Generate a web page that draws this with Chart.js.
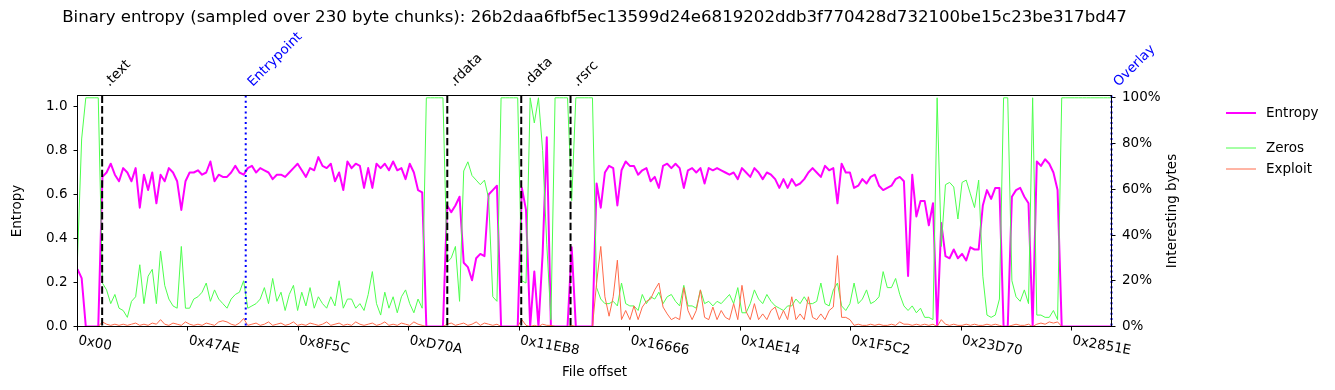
<!DOCTYPE html>
<html>
<head>
<meta charset="utf-8">
<title>Binary entropy</title>
<script src="https://cdn.jsdelivr.net/npm/chart.js@4.4.1/dist/chart.umd.min.js"></script>
<style>
  body { margin: 0; background: #fff; }
  #chart { display: block; }
</style>
</head>
<body>
<canvas id="chart" width="1335" height="390"></canvas>
<script>
const chartTitle = "Binary entropy (sampled over 230 byte chunks): 26b2daa6fbf5ec13599d24e6819202ddb3f770428d732100be15c23be317bd47";

// bytes between two plotted samples, and the end of the plotted range
const sampleStep = 690;
const fileEnd = 171800;

const tickOffsets = [0, 18350, 36700, 55050, 73400, 91750, 110100, 128450, 146800, 165150];
const tickLabels = ["0x00", "0x47AE", "0x8F5C", "0xD70A", "0x11EB8", "0x16666", "0x1AE14", "0x1F5C2", "0x23D70", "0x2851E"];
const entropyTicks = [0, 0.2, 0.4, 0.6, 0.8, 1.0];
const percentTicks = [0, 0.2, 0.4, 0.6, 0.8, 1.0];

const sectionNames = [".text", ".rdata", ".data", ".rsrc"];
const sectionOffsets = [4096, 61440, 73728, 81920];
const markerNames = ["Entrypoint", "Overlay"];
const markerOffsets = [27950, 171800];

const entropy = [
  0.26, 0.22, 0, 0, 0, 0, 0.68, 0.70, 0.74, 0.69,
  0.66, 0.72, 0.70, 0.66, 0.72, 0.54, 0.69, 0.62, 0.70, 0.56,
  0.69, 0.66, 0.72, 0.70, 0.66, 0.53, 0.66, 0.70, 0.70, 0.71,
  0.69, 0.70, 0.75, 0.66, 0.69, 0.68, 0.68, 0.70, 0.73, 0.70,
  0.69, 0.72, 0.73, 0.70, 0.72, 0.71, 0.70, 0.67, 0.69, 0.69,
  0.68, 0.70, 0.72, 0.74, 0.71, 0.68, 0.72, 0.71, 0.77, 0.73,
  0.72, 0.74, 0.66, 0.70, 0.62, 0.75, 0.72, 0.74, 0.73, 0.63,
  0.72, 0.63, 0.74, 0.72, 0.74, 0.71, 0.75, 0.71, 0.72, 0.67,
  0.74, 0.70, 0.62, 0.61, 0, 0, 0, 0, 0, 0.55,
  0.52, 0.55, 0.59, 0.29, 0.27, 0.21, 0.31, 0.33, 0.32, 0.60,
  0.62, 0.64, 0, 0, 0, 0, 0, 0.63, 0.53, 0,
  0.25, 0, 0.33, 0.86, 0, 0, 0, 0, 0, 0.36,
  0, 0, 0, 0, 0, 0.65, 0.54, 0.70, 0.73, 0.72,
  0.55, 0.71, 0.75, 0.73, 0.73, 0.69, 0.71, 0.72, 0.66, 0.68,
  0.63, 0.73, 0.74, 0.72, 0.74, 0.72, 0.63, 0.71, 0.72, 0.70,
  0.72, 0.65, 0.72, 0.71, 0.72, 0.71, 0.70, 0.69, 0.70, 0.67,
  0.72, 0.70, 0.68, 0.72, 0.70, 0.67, 0.70, 0.69, 0.67, 0.63,
  0.67, 0.63, 0.67, 0.64, 0.65, 0.67, 0.70, 0.72, 0.70, 0.68,
  0.73, 0.71, 0.72, 0.56, 0.74, 0.70, 0.70, 0.63, 0.64, 0.67,
  0.65, 0.68, 0.69, 0.64, 0.62, 0.63, 0.64, 0.67, 0.68, 0.66,
  0.23, 0.69, 0.50, 0.57, 0.57, 0.46, 0.56, 0, 0.47, 0.32,
  0.31, 0.35, 0.31, 0.33, 0.30, 0.36, 0.35, 0.35, 0.55, 0.62,
  0.58, 0.63, 0.63, 0, 0, 0.59, 0.62, 0.63, 0.59, 0.56,
  0, 0.75, 0.73, 0.76, 0.74, 0.70, 0.62, 0, 0, 0,
  0, 0, 0, 0, 0, 0, 0, 0, 0, 0
];

const zeros = [
  0.30, 0.82, 1, 1, 1, 1, 0.19, 0.16, 0.10, 0.14,
  0.08, 0.07, 0.04, 0.11, 0.13, 0.27, 0.10, 0.22, 0.25, 0.10,
  0.33, 0.18, 0.12, 0.09, 0.08, 0.35, 0.08, 0.08, 0.12, 0.13,
  0.15, 0.19, 0.11, 0.16, 0.12, 0.10, 0.08, 0.12, 0.14, 0.15,
  0.20, 0.08, 0.09, 0.10, 0.12, 0.17, 0.10, 0.21, 0.11, 0.15,
  0.07, 0.14, 0.18, 0.07, 0.15, 0.09, 0.17, 0.08, 0.13, 0.10,
  0.08, 0.13, 0.09, 0.20, 0.08, 0.12, 0.12, 0.08, 0.10, 0.07,
  0.14, 0.24, 0.10, 0.05, 0.15, 0.08, 0.13, 0.06, 0.13, 0.16,
  0.10, 0.06, 0.12, 0.08, 1, 1, 1, 1, 1, 0.28,
  0.30, 0.35, 0.11, 0.68, 0.72, 0.66, 0.64, 0.62, 0.64, 0.56,
  0.13, 0.11, 1, 1, 1, 1, 1, 0.20, 0.19, 1,
  0.89, 1, 0.77, 0.36, 0.03, 1, 1, 1, 1, 0.55,
  1, 1, 1, 1, 1, 0.17, 0.12, 0.10, 0.10, 0.11,
  0.09, 0.19, 0.10, 0.09, 0.09, 0.07, 0.14, 0.10, 0.13, 0.12,
  0.15, 0.10, 0.13, 0.14, 0.11, 0.09, 0.18, 0.09, 0.09, 0.08,
  0.16, 0.10, 0.11, 0.09, 0.11, 0.10, 0.12, 0.14, 0.10, 0.17,
  0.06, 0.06, 0.10, 0.16, 0.12, 0.10, 0.14, 0.11, 0.09, 0.08,
  0.07, 0.09, 0.09, 0.12, 0.10, 0.13, 0.10, 0.10, 0.11, 0.19,
  0.10, 0.09, 0.16, 0.19, 0.09, 0.07, 0.10, 0.19, 0.10, 0.12,
  0.16, 0.10, 0.11, 0.13, 0.24, 0.17, 0.17, 0.21, 0.14, 0.09,
  0.07, 0.09, 0.06, 0.08, 0.04, 0.04, 0.03, 1, 0.35, 0.62,
  0.63, 0.61, 0.47, 0.63, 0.64, 0.58, 0.52, 0.64, 0.22, 0.05,
  0.04, 0.05, 0.12, 1, 1, 0.20, 0.13, 0.11, 0.16, 0.10,
  1, 0.05, 0.05, 0.04, 0.04, 0.07, 0.03, 1, 1, 1,
  1, 1, 1, 1, 1, 1, 1, 1, 1, 1
];

const exploit = [
  0, 0, 0, 0, 0, 0, 0.02, 0.01, 0.005, 0.01,
  0.005, 0.01, 0.005, 0.01, 0.015, 0.005, 0.01, 0.005, 0.015, 0.01,
  0.03, 0.01, 0.005, 0.015, 0.01, 0.005, 0.02, 0.01, 0.005, 0.01,
  0.005, 0.015, 0.01, 0.005, 0.02, 0.025, 0.02, 0.01, 0.005, 0.015,
  0.035, 0.005, 0.01, 0.015, 0.005, 0.01, 0.02, 0.005, 0.01, 0.015,
  0.005, 0.01, 0.02, 0.005, 0.01, 0.005, 0.015, 0.01, 0.005, 0.01,
  0.02, 0.005, 0.01, 0.015, 0.005, 0.01, 0.005, 0.02, 0.01, 0.005,
  0.01, 0.015, 0.005, 0.01, 0.02, 0.005, 0.01, 0.005, 0.015, 0.01,
  0.005, 0.02, 0.01, 0.005, 0, 0, 0, 0, 0, 0.01,
  0.015, 0.005, 0.01, 0.015, 0.005, 0.01, 0.02, 0.005, 0.015, 0.01,
  0.005, 0.01, 0, 0, 0, 0, 0, 0.03, 0.005, 0,
  0.005, 0, 0.01, 0.005, 0.005, 0, 0, 0, 0, 0.005,
  0, 0, 0, 0, 0, 0.19, 0.35, 0.13, 0.045, 0.13,
  0.29, 0.03, 0.07, 0.03, 0.09, 0.03, 0.085, 0.11, 0.12, 0.16,
  0.19, 0.085, 0.055, 0.03, 0.04, 0.03, 0.17, 0.07, 0.03, 0.07,
  0.16, 0.04, 0.03, 0.085, 0.03, 0.07, 0.04, 0.03, 0.10, 0.03,
  0.18, 0.065, 0.03, 0.10, 0.03, 0.055, 0.03, 0.07, 0.085, 0.03,
  0.07, 0.03, 0.13, 0.03, 0.055, 0.03, 0.13, 0.04, 0.03, 0.055,
  0.03, 0.07, 0.085, 0.31, 0.04, 0.04, 0.03, 0.005, 0.01, 0.005,
  0.005, 0.01, 0.005, 0.01, 0.005, 0.005, 0.01, 0.005, 0.02, 0.01,
  0.01, 0.005, 0.01, 0.005, 0.01, 0.005, 0.01, 0, 0.03, 0.01,
  0.005, 0.01, 0.005, 0.005, 0.01, 0.005, 0.01, 0.005, 0.005, 0.01,
  0.005, 0.01, 0.005, 0, 0, 0.005, 0.01, 0.005, 0.005, 0.01,
  0, 0.01, 0.015, 0.01, 0.02, 0.015, 0.02, 0, 0, 0,
  0, 0, 0, 0, 0, 0, 0, 0, 0, 0
];

const FONT = "DejaVu Sans";
Chart.defaults.font.family = FONT;
Chart.defaults.font.size = 13.5;
Chart.defaults.color = "#000";

function toPoints(values) {
  return values.map((v, i) => ({ x: i * sampleStep, y: v }));
}

const tickGrid = { drawOnChartArea: false, tickLength: 4, color: "#000" };

// section lines, frame, texts and the legend
const decorations = {
  id: "decorations",
  afterDatasetsDraw(chart) {
    const { ctx, chartArea: a } = chart;
    const xs = chart.scales.x;
    ctx.save();
    ctx.lineWidth = 2;
    ctx.strokeStyle = "#000";
    ctx.setLineDash([7.4, 3.2]);
    sectionOffsets.forEach((off) => {
      const px = xs.getPixelForValue(off);
      ctx.beginPath();
      ctx.moveTo(px, a.top);
      ctx.lineTo(px, a.bottom);
      ctx.stroke();
    });
    ctx.strokeStyle = "#0000ff";
    ctx.setLineDash([2, 3.3]);
    markerOffsets.forEach((off) => {
      const px = xs.getPixelForValue(off);
      ctx.beginPath();
      ctx.moveTo(px, a.top);
      ctx.lineTo(px, a.bottom);
      ctx.stroke();
    });
    ctx.setLineDash([]);
    ctx.lineWidth = 1;
    ctx.strokeStyle = "#000";
    ctx.strokeRect(a.left, a.top, a.right - a.left, a.bottom - a.top);
    ctx.restore();
  },
  afterDraw(chart) {
    const { ctx, chartArea: a } = chart;
    const xs = chart.scales.x;
    const cx = (a.left + a.right) / 2;
    const cy = (a.top + a.bottom) / 2;
    ctx.save();
    ctx.fillStyle = "#000";

    ctx.font = "16.6px " + FONT;
    ctx.textAlign = "center";
    ctx.textBaseline = "middle";
    ctx.fillText(chartTitle, cx, 18);

    ctx.font = "13.5px " + FONT;
    ctx.fillText("File offset", cx, 372);
    ctx.save();
    ctx.translate(17.5, cy);
    ctx.rotate(-Math.PI / 2);
    ctx.fillText("Entropy", 0, 0);
    ctx.restore();
    ctx.save();
    ctx.translate(1172.5, cy);
    ctx.rotate(-Math.PI / 2);
    ctx.fillText("Interesting bytes", 0, 0);
    ctx.restore();

    // x tick labels, slanted down to the right
    ctx.textAlign = "left";
    ctx.textBaseline = "top";
    tickOffsets.forEach((off, k) => {
      ctx.save();
      ctx.translate(xs.getPixelForValue(off) + 2, 334);
      ctx.rotate((10 * Math.PI) / 180);
      ctx.fillText(tickLabels[k], 0, 0);
      ctx.restore();
    });

    // labels above the section and marker lines
    ctx.textBaseline = "alphabetic";
    const labelAt = (text, off, color) => {
      ctx.save();
      ctx.fillStyle = color;
      ctx.translate(xs.getPixelForValue(off) + 7, 87);
      ctx.rotate(-Math.PI / 4);
      ctx.fillText(text, 0, 0);
      ctx.restore();
    };
    sectionNames.forEach((name, k) => labelAt(name, sectionOffsets[k], "#000"));
    markerNames.forEach((name, k) => labelAt(name, markerOffsets[k], "#0000ff"));

    // legend
    const rows = [113, 148, 169];
    ctx.textBaseline = "middle";
    chart.data.datasets.forEach((ds, k) => {
      ctx.strokeStyle = ds.borderColor;
      ctx.lineWidth = ds.borderWidth;
      ctx.beginPath();
      ctx.moveTo(1226, rows[k]);
      ctx.lineTo(1256, rows[k]);
      ctx.stroke();
      ctx.fillStyle = "#000";
      ctx.fillText(ds.label, 1266, rows[k]);
    });
    ctx.restore();
  }
};

new Chart(document.getElementById("chart"), {
  type: "line",
  data: {
    datasets: [
      {
        label: "Entropy",
        data: toPoints(entropy),
        yAxisID: "y",
        borderColor: "#ff00ff",
        borderWidth: 2,
        order: 3
      },
      {
        label: "Zeros",
        data: toPoints(zeros),
        yAxisID: "y1",
        borderColor: "#4dff4d",
        borderWidth: 1,
        order: 2
      },
      {
        label: "Exploit",
        data: toPoints(exploit),
        yAxisID: "y1",
        borderColor: "#ff6a4a",
        borderWidth: 1,
        order: 1
      }
    ]
  },
  options: {
    responsive: false,
    animation: false,
    devicePixelRatio: 1,
    layout: { padding: { left: 0, top: 95.5, right: 143.5, bottom: 0 } },
    elements: {
      point: { radius: 0 },
      line: { tension: 0, borderJoinStyle: "round", fill: false }
    },
    plugins: {
      legend: { display: false },
      tooltip: { enabled: false }
    },
    scales: {
      x: {
        type: "linear",
        min: 0,
        max: fileEnd,
        afterBuildTicks: (s) => { s.ticks = tickOffsets.map((v) => ({ value: v })); },
        afterFit: (s) => { s.height = 63.5; },
        ticks: { display: false },
        grid: tickGrid,
        border: { display: false }
      },
      y: {
        position: "left",
        min: 0,
        max: 1.05,
        afterBuildTicks: (s) => { s.ticks = entropyTicks.map((v) => ({ value: v })); },
        afterFit: (s) => { s.width = 77.5; },
        ticks: { callback: (v) => v.toFixed(1), padding: 6 },
        grid: tickGrid,
        border: { display: false }
      },
      y1: {
        position: "right",
        min: 0,
        max: 1.01,
        afterBuildTicks: (s) => { s.ticks = percentTicks.map((v) => ({ value: v })); },
        afterFit: (s) => { s.width = 80; },
        ticks: { callback: (v) => Math.round(v * 100) + "%", padding: 6.5 },
        grid: tickGrid,
        border: { display: false }
      }
    }
  },
  plugins: [decorations]
});
</script>
</body>
</html>
